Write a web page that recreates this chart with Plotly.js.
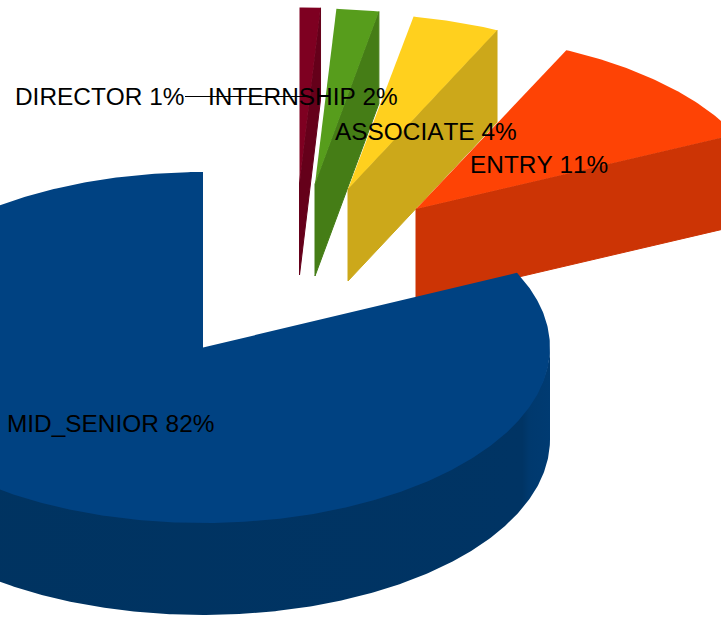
<!DOCTYPE html>
<html>
<head>
<meta charset="utf-8">
<script src="https://cdn.plot.ly/plotly-3.0.1.min.js"></script>
<style>
html,body{margin:0;padding:0;background:#fff}
#chart{width:721px;height:617px}
#chart text{font-kerning:none}
</style>
</head>
<body>
<div id="chart"></div>
<script>
// Job level shares, drawn clockwise from twelve o'clock
const categories = ['DIRECTOR', 'INTERNSHIP', 'ASSOCIATE', 'ENTRY', 'MID_SENIOR'];
const shares = [1, 2, 4, 11, 82];
const topColors = ['#7e0021', '#579d1c', '#ffd01e', '#fe4305', '#004282'];
const wallColors = ['#65001a', '#457d16', '#cca81a', '#cc3405', '#003464'];

// Projection of the pie disc: ellipse radii per slice and extrusion depth
const radiusX = [335, 341, 350, 353, 347];
const ry = 175.5, depth = 92;
// Where each slice's apex lands once pulled out of the pie
const apexX = [299.5, 315, 348, 416, 203];
const apexY = [183, 184, 189, 209, 347.5];
// Label anchors
const labelX = [15, 208, 335, 470, 7];
const labelY = [98.5, 99, 134, 167, 426];

const total = shares.reduce((a, b) => a + b, 0);
const rad = d => d * Math.PI / 180;

function rimPoint(cx, cy, rx, deg, drop) {
  return [cx + rx * Math.sin(rad(deg)), cy - ry * Math.cos(rad(deg)) + drop];
}

function arc(cx, cy, rx, from, to, drop) {
  const pts = [];
  const n = Math.max(2, Math.ceil((to - from) * 2));
  for (let i = 0; i <= n; i++) pts.push(rimPoint(cx, cy, rx, from + (to - from) * i / n, drop));
  return pts;
}

function polygon(pts, color, gradient, seam) {
  const trace = {
    type: 'scatter', mode: 'lines', fill: 'toself', fillcolor: color,
    x: pts.map(p => p[0]), y: pts.map(p => p[1]),
    line: {width: seam || 0, color: color}, hoverinfo: 'skip', showlegend: false
  };
  if (gradient) trace.fillgradient = gradient;
  return trace;
}

const traces = [];
let start = 0;
categories.forEach((name, i) => {
  const end = start + shares[i] / total * 360;
  const cx = apexX[i], cy = apexY[i], rx = radiusX[i];
  const isMain = i === categories.length - 1;

  if (isMain) {
    // Front rim of the large slice, tucked slightly under the top face
    const rimFrom = Math.max(start, 90), rimTo = Math.min(end, 270);
    const upper = arc(cx, cy, rx, rimFrom, rimTo, -2);
    const lower = arc(cx, cy, rx, rimFrom, rimTo, depth).reverse();
    traces.push(polygon(upper.concat(lower), wallColors[i], {
      type: 'horizontal',
      colorscale: [[0, '#003360'], [0.96, '#003464'], [0.97, '#00396e'], [1, '#003b72']]
    }));
  } else {
    // Cut face on the trailing edge of a pulled-out slice
    const outer = rimPoint(cx, cy, rx, end, 0);
    const outerLow = rimPoint(cx, cy, rx, end, depth);
    traces.push(polygon([[cx, cy], outer, outerLow, [cx, cy + depth], [cx, cy]], wallColors[i], null, 1));
  }

  // Top face
  const face = [[cx, cy]].concat(arc(cx, cy, rx, start, end, 0), [[cx, cy]]);
  traces.push(polygon(face, topColors[i]));
  start = end;
});

// Leader line from the smallest slice's label
traces.push({
  type: 'scatter', mode: 'lines',
  x: [185, 306], y: [96.5, 96.5],
  line: {color: '#000', width: 1}, hoverinfo: 'skip', showlegend: false
});

// Category labels with their percentages
traces.push({
  type: 'scatter', mode: 'text',
  x: labelX, y: labelY,
  text: categories.map((c, i) => c + ' ' + shares[i] + '%'),
  textposition: 'middle right',
  textfont: {family: '"Liberation Sans", Arial, sans-serif', size: 24.4, color: '#000'},
  hoverinfo: 'skip', showlegend: false
});

const hidden = {visible: false, fixedrange: true};
Plotly.newPlot('chart', traces, {
  width: 721, height: 617,
  margin: {l: 0, r: 0, t: 0, b: 0},
  paper_bgcolor: '#fff', plot_bgcolor: '#fff',
  xaxis: Object.assign({range: [0, 721]}, hidden),
  yaxis: Object.assign({range: [617, 0]}, hidden),
  showlegend: false
}, {displayModeBar: false, staticPlot: true});
</script>
</body>
</html>
